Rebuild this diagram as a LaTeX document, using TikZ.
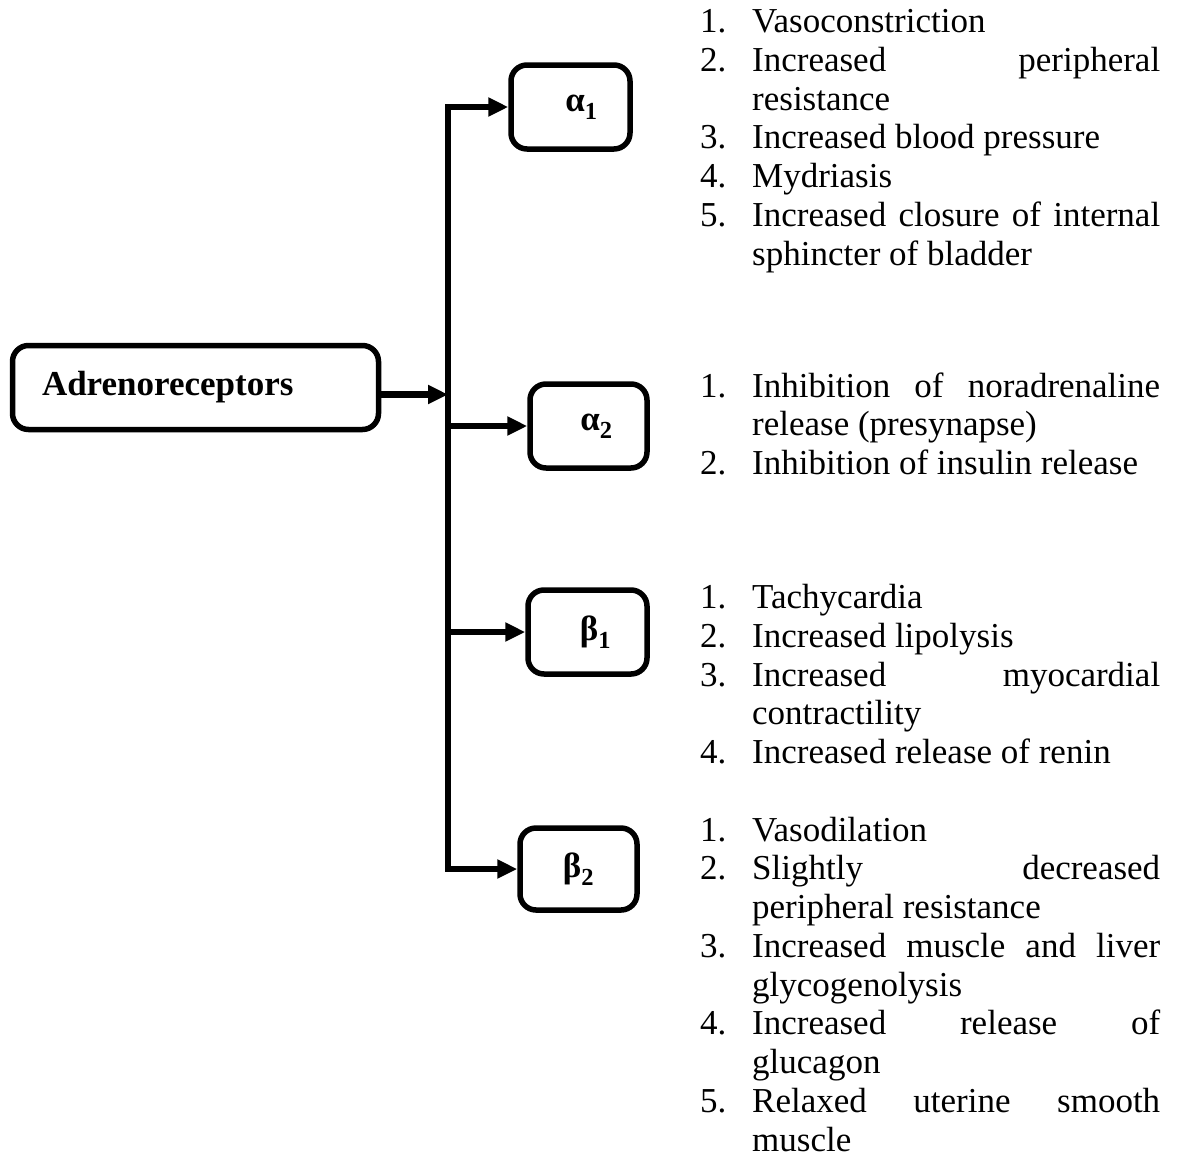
\documentclass[tikz,border=0pt]{standalone}
\usepackage{fontspec}
\setmainfont{Liberation Serif}
\usepackage{tikz}
\usetikzlibrary{arrows.meta}

\hyphenpenalty=10000
\tolerance=10000
\newcommand{\bodysize}{\fontsize{35}{38.75}\selectfont}
\newcommand{\itm}[2]{\hangindent=52pt\hangafter=1\makebox[52pt][l]{#1.}#2\par}

\tikzset{
  rbox/.style={draw,line width=5.5pt,rounded corners=16pt,font=\bodysize\bfseries},
  conn/.style={line width=6.5pt},
  effects/.style={anchor=base west,inner sep=0pt,text width=460pt,align=justify,font=\bodysize}
}

\begin{document}
\begin{tikzpicture}[x=1pt,y=-1pt,>={Triangle[length=20pt,width=18pt]}]
\useasboundingbox (0,0) rectangle (1178,1157);
\node[rbox,minimum width=366pt,minimum height=84pt,inner xsep=29.5pt,text width=307pt,align=left] (adr) at (195.5,387.5) {Adrenoreceptors};
\node[rbox,minimum width=119pt,minimum height=84pt] (a1) at (570.5,107) {\hspace*{22pt}α\textsubscript{1}};
\node[rbox,minimum width=117pt,minimum height=84pt] (a2) at (588.5,426) {\hspace*{16pt}α\textsubscript{2}};
\node[rbox,minimum width=119pt,minimum height=84pt] (b1) at (587.5,632) {\hspace*{16pt}β\textsubscript{1}};
\node[rbox,minimum width=117pt,minimum height=82pt] (b2) at (578.5,869) {β\textsubscript{2}};
\coordinate (sp) at (448,0);
\draw[conn,<->] (a1.west) -| (sp |- b2) -- (b2.west);
\draw[conn,->] (sp |- a2) -- (a2.west);
\draw[conn,->] (sp |- b1) -- (b1.west);
\draw[conn,->] ([yshift=-7pt]adr.east) -- ([yshift=-7pt]adr.east -| sp);
\node[effects] (ea1) at (700,32.5) {
\itm{1}{Vasoconstriction}
\itm{2}{Increased peripheral\linebreak resistance}
\itm{3}{Increased blood pressure}
\itm{4}{Mydriasis}
\itm{5}{Increased closure of internal\linebreak sphincter of bladder}};
\node[effects] (ea2) at (700,397) {
\itm{1}{Inhibition of noradrenaline\linebreak release (presynapse)}
\itm{2}{Inhibition of insulin release}};
\node[effects] (eb1) at (700,608.5) {
\itm{1}{Tachycardia}
\itm{2}{Increased lipolysis}
\itm{3}{Increased myocardial\linebreak contractility}
\itm{4}{Increased release of renin}};
\node[effects] (eb2) at (700,841) {
\itm{1}{Vasodilation}
\itm{2}{Slightly decreased\linebreak peripheral resistance}
\itm{3}{Increased muscle and liver\linebreak glycogenolysis}
\itm{4}{Increased release of\linebreak glucagon}
\itm{5}{Relaxed uterine smooth\linebreak muscle}};
\end{tikzpicture}
\end{document}
